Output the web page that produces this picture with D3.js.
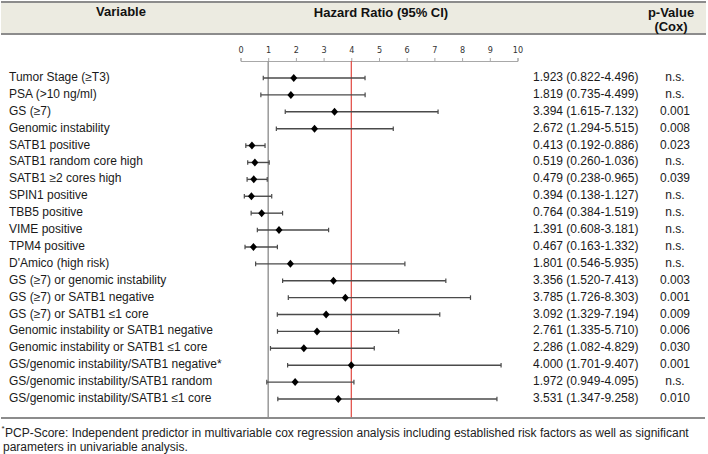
<!DOCTYPE html>
<html>
<head>
<meta charset="utf-8">
<script src="https://cdn.jsdelivr.net/npm/d3@7"></script>
<style>
  body { margin: 0; background: #fff; }
  svg { display: block; font-family: "Liberation Sans", Arial, sans-serif; }
</style>
</head>
<body>
<div id="chart"></div>
<script>
// rows of the forest plot
var variables = [
  "Tumor Stage (≥T3)", "PSA (>10 ng/ml)", "GS (≥7)", "Genomic instability",
  "SATB1 positive", "SATB1 random core high", "SATB1 ≥2 cores high", "SPIN1 positive",
  "TBB5 positive", "VIME positive", "TPM4 positive", "D'Amico (high risk)",
  "GS (≥7) or genomic instability", "GS (≥7) or SATB1 negative", "GS (≥7) or SATB1 ≤1 core",
  "Genomic instability or SATB1 negative", "Genomic instability or SATB1 ≤1 core",
  "GS/genomic instability/SATB1 negative*", "GS/genomic instability/SATB1 random",
  "GS/genomic instability/SATB1 ≤1 core"
];
var hr = [1.923, 1.819, 3.394, 2.672, 0.413, 0.519, 0.479, 0.394, 0.764, 1.391,
          0.467, 1.801, 3.356, 3.785, 3.092, 2.761, 2.286, 4.000, 1.972, 3.531];
var lower = [0.822, 0.735, 1.615, 1.294, 0.192, 0.260, 0.238, 0.138, 0.384, 0.608,
             0.163, 0.546, 1.520, 1.726, 1.329, 1.335, 1.082, 1.701, 0.949, 1.347];
var upper = [4.496, 4.499, 7.132, 5.515, 0.886, 1.036, 0.965, 1.127, 1.519, 3.181,
             1.332, 5.935, 7.413, 8.303, 7.194, 5.710, 4.829, 9.407, 4.095, 9.258];
var pValues = ["n.s.", "n.s.", "0.001", "0.008", "0.023", "n.s.", "0.039", "n.s.", "n.s.", "n.s.",
               "n.s.", "n.s.", "0.003", "0.001", "0.009", "0.006", "0.030", "0.001", "n.s.", "0.010"];
var xTicks = [0, 1, 2, 3, 4, 5, 6, 7, 8, 9, 10];
var refLines = [1, 4];

var width = 708, height = 454;
var fmt = d3.format(".3f");

var svg = d3.select("#chart").append("svg")
  .attr("width", width)
  .attr("height", height);

// header band
svg.append("rect")
  .attr("x", 1).attr("y", 2).attr("width", width - 3).attr("height", 32)
  .attr("fill", "#ecebe1");
[2, 34].forEach(function (y) {
  svg.append("line")
    .attr("x1", 1).attr("x2", width - 2).attr("y1", y).attr("y2", y)
    .attr("stroke", "#8c8c8c").attr("stroke-width", 2);
});

var head = svg.append("g")
  .attr("font-weight", "bold").attr("font-size", 13)
  .attr("fill", "#111").attr("text-anchor", "middle");
head.append("text").attr("x", 121).attr("y", 16).text("Variable");
head.append("text").attr("x", 381).attr("y", 17).text("Hazard Ratio (95% CI)");
head.append("text").attr("x", 671).attr("y", 17).text("p-Value");
head.append("text").attr("x", 671).attr("y", 31).text("(Cox)");

// scales
var x = d3.scaleLinear().domain([0, 10]).range([240.5, 517.5]);
var y = d3.scalePoint().domain(d3.range(variables.length)).range([78, 399]);

// axis on top of the plot
var axis = svg.append("g")
  .attr("transform", "translate(0,61)")
  .call(d3.axisTop(x).tickValues(xTicks).tickSize(3).tickSizeOuter(3).tickPadding(5));
axis.selectAll("path, line").attr("stroke", "#a8a8a8");
axis.selectAll("text")
  .attr("font-family", "'Liberation Sans Narrow', 'DejaVu Sans Condensed', sans-serif")
  .attr("font-size", 9).attr("fill", "#333");

// reference lines
svg.selectAll(".ref")
  .data(refLines)
  .join("line")
  .attr("x1", d => x(d)).attr("x2", d => x(d))
  .attr("y1", 61).attr("y2", 418)
  .attr("stroke", d => d === 1 ? "#999" : "#e0473f")
  .attr("stroke-width", d => d === 1 ? 1.5 : 1.2);

// confidence intervals
var rows = svg.append("g").selectAll("g")
  .data(variables.map((v, i) => ({ name: v, hr: hr[i], lo: lower[i], hi: upper[i], p: pValues[i], i: i })))
  .join("g");

rows.append("line")
  .attr("x1", d => x(d.lo)).attr("x2", d => x(d.hi))
  .attr("y1", d => y(d.i)).attr("y2", d => y(d.i))
  .attr("stroke", "#4a4a4a").attr("stroke-width", 1.4);
rows.selectAll(".cap")
  .data(d => [d.lo, d.hi].map(v => ({ v: v, i: d.i })))
  .join("line")
  .attr("x1", c => x(c.v)).attr("x2", c => x(c.v))
  .attr("y1", c => y(c.i) - 2.3).attr("y2", c => y(c.i) + 2.3)
  .attr("stroke", "#4a4a4a").attr("stroke-width", 1.2);

// point estimates
rows.append("path")
  .attr("d", d => {
    var cx = x(d.hr), cy = y(d.i);
    return `M${cx},${cy - 4}L${cx + 3.5},${cy}L${cx},${cy + 4}L${cx - 3.5},${cy}Z`;
  })
  .attr("fill", "#000");

// labels and columns
rows.append("text")
  .attr("x", 9).attr("y", d => y(d.i) + 3)
  .attr("font-size", 12).attr("fill", "#1a1a1a")
  .text(d => d.name);
rows.append("text")
  .attr("x", 533).attr("y", d => y(d.i) + 3)
  .attr("font-size", 12).attr("fill", "#1a1a1a")
  .text(d => `${fmt(d.hr)} (${fmt(d.lo)}-${fmt(d.hi)})`);
rows.append("text")
  .attr("x", 675).attr("y", d => y(d.i) + 3)
  .attr("font-size", 12).attr("fill", "#1a1a1a").attr("text-anchor", "middle")
  .text(d => d.p);

// footer
svg.append("line")
  .attr("x1", 1).attr("x2", 705).attr("y1", 418).attr("y2", 418)
  .attr("stroke", "#8c8c8c").attr("stroke-width", 2);

var foot = svg.append("g").attr("font-size", 12).attr("fill", "#222");
foot.append("text").attr("x", 1.5).attr("y", 431).attr("font-size", 8).text("*");
foot.append("text").attr("x", 5).attr("y", 437)
  .text("PCP-Score: Independent predictor in multivariable cox regression analysis including established risk factors as well as significant");
foot.append("text").attr("x", 3).attr("y", 451)
  .text("parameters in univariable analysis.");
</script>
</body>
</html>
